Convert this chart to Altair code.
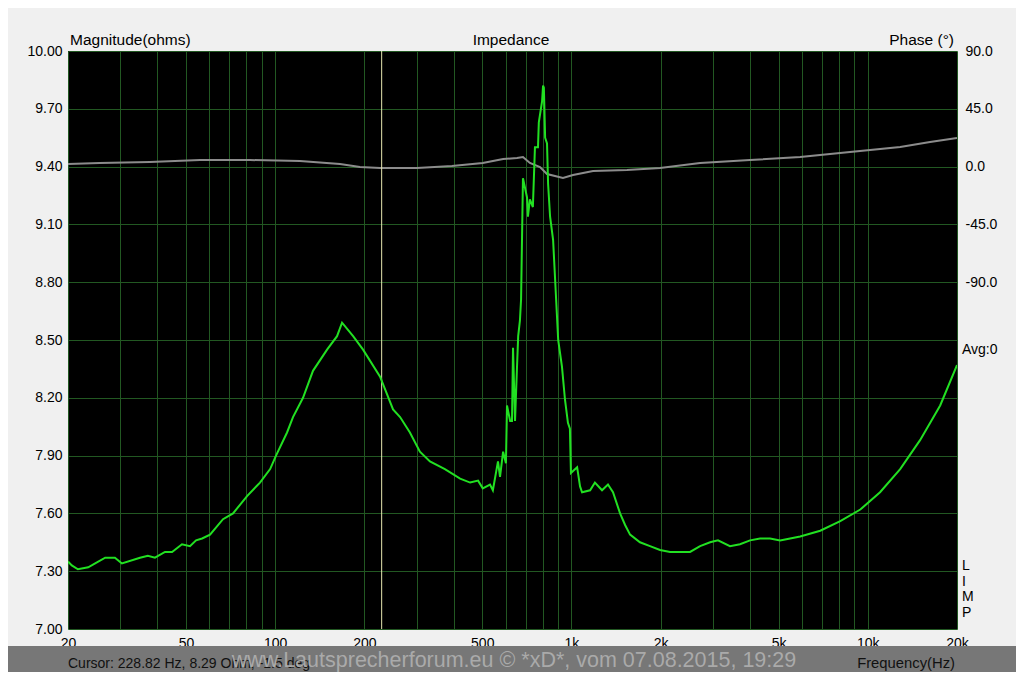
import altair as alt
import pandas as pd

# Impedance magnitude (ohms) vs frequency (Hz)
mag_freq = [20, 20.6, 21.6, 23.4, 24.7, 26.7, 28.8, 30.4, 35.0, 37.2, 39.3, 42.5, 44.9, 48.5,
            51.6, 54.1, 56.7, 60.3, 66.7, 72.1, 80.4, 88.9, 96.2, 100.7, 109.7, 114.9, 124.2,
            134.2, 149.7, 161.8, 168.2, 183.3, 198.0, 226, 250, 264, 285, 308, 333, 374, 421,
            455, 484, 502, 531, 543, 565, 574, 588, 601, 606, 621, 630, 635, 640, 645, 655,
            661, 670, 676, 686, 708, 713, 724, 741, 753, 771, 776, 796, 802, 807, 815, 827,
            834, 847, 867, 902, 929, 951, 973, 988, 996, 1045, 1069, 1086, 1156, 1200, 1268,
            1328, 1381, 1459, 1517, 1577, 1703, 1841, 1990, 2151, 2325, 2513, 2717, 2937,
            3122, 3427, 3705, 4005, 4329, 4680, 5059, 5469, 5912, 6909, 8074, 9435, 11000,
            12860, 15010, 17550, 20000]
mag_ohm = [7.35, 7.33, 7.31, 7.32, 7.34, 7.37, 7.37, 7.34, 7.37, 7.38, 7.37, 7.40, 7.40, 7.44,
           7.43, 7.46, 7.47, 7.49, 7.57, 7.60, 7.69, 7.76, 7.83, 7.90, 8.02, 8.10, 8.20,
           8.34, 8.45, 8.52, 8.59, 8.52, 8.45, 8.31, 8.14, 8.10, 8.02, 7.92, 7.87, 7.83, 7.78,
           7.76, 7.77, 7.73, 7.75, 7.72, 7.87, 7.79, 7.92, 7.86, 8.16, 8.08, 8.08, 8.46, 8.27,
           8.08, 8.36, 8.52, 8.60, 8.71, 9.34, 9.24, 9.14, 9.23, 9.19, 9.50, 9.50, 9.63, 9.74,
           9.82, 9.81, 9.55, 9.52, 9.31, 9.14, 9.02, 8.50, 8.36, 8.19, 8.07, 8.04, 7.81, 7.84,
           7.74, 7.71, 7.72, 7.76, 7.72, 7.75, 7.71, 7.60, 7.54, 7.49, 7.45, 7.43, 7.41, 7.40,
           7.40, 7.40, 7.43, 7.45, 7.46, 7.43, 7.44, 7.46, 7.47, 7.47, 7.46, 7.47, 7.48, 7.51,
           7.56, 7.62, 7.71, 7.83, 7.98, 8.16, 8.37]

# Phase (degrees) vs frequency (Hz)
ph_freq = [20, 25.6, 37.8, 55.8, 82.3, 121.3, 165.5, 193.3, 226, 301, 395, 502, 588, 655, 686,
           724, 783, 827, 936, 1012, 1183, 1539, 1990, 2717, 4005, 5912, 8710, 12860, 16220,
           20000]
ph_deg = [2.0, 2.8, 3.6, 5.1, 5.1, 4.4, 2.0, -0.3, -1.1, -1.1, 0.5, 2.8, 5.9, 6.7, 7.5, 2.8,
          -0.3, -5.8, -8.9, -6.5, -3.4, -2.6, -1.1, 2.8, 5.1, 7.5, 11.4, 15.3, 19.2, 22.3]

grid_freqs = [20, 30, 40, 50, 60, 70, 80, 90, 100, 200, 300, 400, 500, 600, 700, 800, 900,
              1000, 2000, 3000, 4000, 5000, 6000, 7000, 8000, 9000, 10000, 20000]
label_freqs = [20, 50, 100, 200, 500, 1000, 2000, 5000, 10000, 20000]
mag_ticks = [7.0, 7.3, 7.6, 7.9, 8.2, 8.5, 8.8, 9.1, 9.4, 9.7, 10.0]
phase_ticks = [90, 45, 0, -45, -90]
cursor_freq = [228.82]

mag_df = pd.DataFrame({"f": mag_freq, "ohm": mag_ohm})
ph_df = pd.DataFrame({"f": ph_freq, "deg": ph_deg})
cur_df = pd.DataFrame({"f": cursor_freq})

FONT = "Liberation Sans"
W, H = 889, 578
GRID = "#225822"

label_set = "[" + ",".join(str(v) for v in label_freqs) + "]"
xscale = alt.Scale(type="log", domain=[20, 20000], nice=False)
xaxis = alt.Axis(
    values=grid_freqs, grid=True, gridColor=GRID, gridOpacity=1, gridWidth=1,
    ticks=False, domain=False, title=None, labelFont=FONT, labelFontSize=14,
    labelColor="#000000", labelPadding=7, labelFlush=False, labelOverlap=False,
    labelExpr=f"indexof({label_set}, datum.value) >= 0 ? (datum.value >= 1000 ? (datum.value/1000) + 'k' : '' + datum.value) : ''",
)
yscale = alt.Scale(domain=[7, 10], nice=False, zero=False)
yaxis = alt.Axis(
    values=mag_ticks, format=".2f", grid=True, gridColor=GRID, gridOpacity=1,
    ticks=False, domain=False, title=None, labelFont=FONT, labelFontSize=14,
    labelColor="#000000", labelPadding=6, labelFlush=False, labelOverlap=False,
)

mag = alt.Chart(mag_df).mark_line(color="#22e022", strokeWidth=2, clip=True).encode(
    x=alt.X("f:Q", scale=xscale, axis=xaxis),
    y=alt.Y("ohm:Q", scale=yscale, axis=yaxis),
)

cursor = alt.Chart(cur_df).mark_rule(color="#e6e6b0", strokeWidth=1).encode(
    x=alt.X("f:Q", scale=xscale),
)

phase = alt.Chart(ph_df).mark_line(color="#8c8c8c", strokeWidth=2, clip=True).encode(
    x=alt.X("f:Q", scale=xscale),
    y=alt.Y("deg:Q", scale=alt.Scale(domain=[-360, 90], nice=False, zero=False),
            axis=alt.Axis(orient="right", values=phase_ticks, grid=False,
                          labelExpr="datum.value < 0 ? '-' + format(-datum.value, '.1f') : format(datum.value, '.1f')",
                          ticks=False, domain=False, title=None, labelFont=FONT,
                          labelFontSize=14, labelColor="#000000", labelPadding=8,
                          labelFlush=False, labelOverlap=False)),
)

def txt(s, x, y, align="left", size=14, color="#000000", baseline="alphabetic", **kw):
    return alt.Chart(pd.DataFrame({"t": [s]})).mark_text(
        align=align, baseline=baseline, font=FONT, fontSize=size, color=color, **kw
    ).encode(text="t:N", x=alt.value(x), y=alt.value(y))

band = alt.Chart(pd.DataFrame({"t": [0]})).mark_rect(color="#777777").encode(
    x=alt.value(-60), x2=alt.value(W + 59), y=alt.value(595), y2=alt.value(H + 43)
)

texts = [
    txt("Magnitude(ohms)", 2, -6, size=15.5),
    txt("Impedance", 443, -6, align="center", size=15.5),
    txt("Phase (°)", 886, -6, align="right", size=15.5),
    txt("Avg:0", 894, 303),
    txt("L\nI\nM\nP", 894, 508, baseline="top", lineBreak="\n", lineHeight=15.5),
    txt("Cursor: 228.82 Hz, 8.29 Ohm, -1.5 deg", 0, 617, color="#111111"),
    txt("Frequency(Hz)", 887, 617, align="right", color="#111111", size=14.8),
    txt("www.Lautsprecherforum.eu © *xD*, vom 07.08.2015, 19:29", 446, 616, align="center",
        size=21.5, color="#b0b0b0", opacity=0.9),
]

chart = alt.layer(band, phase, cursor, mag, *texts).resolve_scale(y="independent").properties(
    width=W, height=H, background="#f0f0f0",
    autosize=alt.AutoSizeParams(type="none"),
    padding={"left": 60, "top": 43, "right": 59, "bottom": 43},
).configure_view(fill="#000000", stroke=None)

chart.save("out.html", embed_options={"renderer": "svg", "actions": False})
